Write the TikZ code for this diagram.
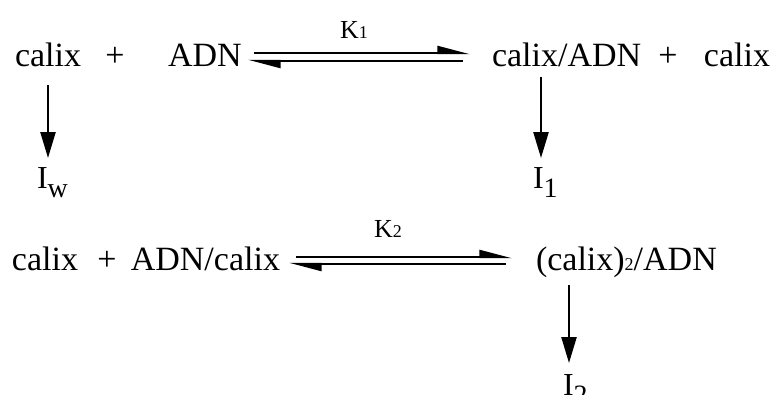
\documentclass[tikz,border=0pt]{standalone}
\usepackage{fontspec}
\setmainfont{Liberation Serif}
\usetikzlibrary{arrows.meta}
\newcommand\smalldig[1]{{\fontsize{18}{20}\selectfont #1}}
\newcommand\lowsub[1]{\raisebox{-9pt}{\fontsize{28}{30}\selectfont #1}}
\begin{document}
\begin{tikzpicture}[x=1pt,y=-1pt,
  chem/.style={inner sep=0pt, outer sep=0pt, anchor=base west,
    font=\fontsize{34}{40}\selectfont},
  chemr/.style={chem, anchor=base east},
  plus/.style={inner sep=0pt, outer sep=0pt, anchor=base,
    font=\fontsize{34}{40}\selectfont},
  prod/.style={inner sep=0pt, outer sep=0pt, anchor=base west,
    font=\fontsize{32}{36}\selectfont},
  konst/.style={inner sep=0pt, outer sep=0pt, anchor=base west,
    font=\fontsize{26}{28}\selectfont},
  down/.style={line width=2.3pt, -{Triangle[length=26pt,width=15pt]}},
  half/.style={line width=2.3pt, -{Triangle[harpoon,length=28pt,width=14pt]}}]
\useasboundingbox (0,0) rectangle (771,394);

% first equilibrium
\node[chem] (c1) at (15,66) {calix};
\node[plus] (p1) at (115,66) {+};
\node[chem] (a1) at (168,66) {ADN};
\node[chem] (cA) at (492,66) {calix/ADN};
\node[plus] (p2) at (668,66) {+};
\node[chemr] (c2) at (770,66) {calix};
\node[konst] (K1) at (340,38) {K\smalldig{1}};

\coordinate (f1s) at (254,53);
\coordinate (f1e) at (470,53);
\coordinate (b1s) at (463,61);
\coordinate (b1e) at (248,61);
\draw[half] (f1s) -- (f1e);
\draw[half] (b1s) -- (b1e);

% side reactions of the first row
\node[prod] (Iw) at (37,188) {I\lowsub{w}};
\node[prod] (I1) at (533,188) {I\lowsub{1}};
\coordinate (vL) at (48,0);
\coordinate (vR) at (541,0);
\draw[down] (c1.base -| vL) ++(0,19) -- ([yshift=9pt]Iw.north -| vL);
\draw[down] (cA.base -| vR) ++(0,11) -- ([yshift=9pt]I1.north -| vR);

% second equilibrium
\node[chem] (c3) at (12,270) {calix};
\node[plus] (p3) at (107,270) {+};
\node[chemr] (a2) at (280,270) {ADN/calix};
\node[chem] (cc) at (536,270) {(calix)\smalldig{2}/ADN};
\node[konst] (K2) at (374,237) {K\smalldig{2}};

\coordinate (f2s) at (296,257);
\coordinate (f2e) at (512,257);
\coordinate (b2s) at (506,264);
\coordinate (b2e) at (289,264);
\draw[half] (f2s) -- (f2e);
\draw[half] (b2s) -- (b2e);

\node[prod] (I2) at (563,395) {I\lowsub{2}};
\coordinate (vB) at (569,0);
\draw[down] (cc.base -| vB) ++(0,15) -- ([yshift=11pt]I2.north -| vB);
\end{tikzpicture}
\end{document}
